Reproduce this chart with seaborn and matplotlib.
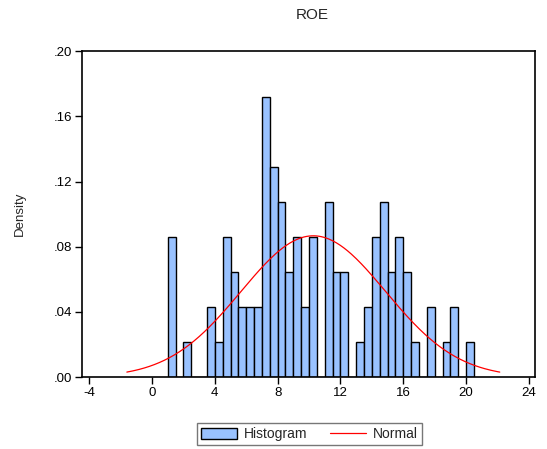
import numpy as np
import pandas as pd
import matplotlib
matplotlib.use("Agg")
import matplotlib.pyplot as plt
from matplotlib.lines import Line2D
from matplotlib.patches import Patch
import seaborn as sns

# ROE histogram: bin left edges (width 0.5) and counts per bin
bin_width = 0.5
bin_lefts = [1.0, 2.0, 3.5, 4.0, 4.5, 5.0, 5.5, 6.0, 6.5, 7.0, 7.5, 8.0, 8.5,
             9.0, 9.5, 10.0, 11.0, 11.5, 12.0, 13.0, 13.5, 14.0, 14.5, 15.0,
             15.5, 16.0, 16.5, 17.5, 18.5, 19.0, 20.0]
counts = [4, 1, 2, 1, 4, 3, 2, 2, 2, 8, 6, 5, 3,
          4, 2, 4, 5, 3, 3, 1, 2, 4, 5, 3,
          4, 3, 1, 2, 1, 2, 1]

# Fitted normal parameters
mu = 10.27
sigma = 4.60

x_ticks = [-4, 0, 4, 8, 12, 16, 20, 24]
y_ticks = [0.00, 0.04, 0.08, 0.12, 0.16, 0.20]
y_tick_labels = [".00", ".04", ".08", ".12", ".16", ".20"]

sns.set_style("white")
plt.rcParams["font.family"] = ["Liberation Sans", "DejaVu Sans"]

fig = plt.figure(figsize=(5.47, 4.49), dpi=100)
ax = fig.add_axes([0.150, 0.160, 0.828, 0.726])

hist_df = pd.DataFrame({
    "center": np.array(bin_lefts) + bin_width / 2,
    "count": counts,
})
bar_color = "#99C2FF"
sns.histplot(data=hist_df, x="center", weights="count",
             binwidth=bin_width, binrange=(1.0, 20.5),
             stat="density", color=bar_color, alpha=1.0,
             edgecolor="black", linewidth=1.0, ax=ax)

# Normal density over mean +/- 2.58 sd
xs = np.linspace(mu - 2.58 * sigma, mu + 2.58 * sigma, 300)
norm_df = pd.DataFrame({
    "x": xs,
    "density": np.exp(-0.5 * ((xs - mu) / sigma) ** 2) / (sigma * np.sqrt(2 * np.pi)),
})
sns.lineplot(data=norm_df, x="x", y="density", color="red", linewidth=0.9, ax=ax)

ax.set_xlim(-4.45, 24.38)
ax.set_ylim(0, 0.20)
ax.set_xticks(x_ticks)
ax.set_xticklabels([str(t) for t in x_ticks])
ax.set_yticks(y_ticks)
ax.set_yticklabels(y_tick_labels)
ax.tick_params(axis="both", direction="out", length=5, width=1,
               labelsize=9.5, colors="black", bottom=True, left=True, pad=2)
for sp in ax.spines.values():
    sp.set_color("black")
    sp.set_linewidth(1.2)
ax.set_xlabel("")
ax.set_ylabel("Density", fontsize=9.5, labelpad=20)
ax.set_title("ROE", fontsize=11, pad=23, x=0.508)

handles = [Patch(facecolor=bar_color, edgecolor="black", linewidth=1.0),
           Line2D([0], [0], color="red", linewidth=0.9)]
leg = fig.legend(handles, ["Histogram", "Normal"], loc="center",
                 bbox_to_anchor=(0.566, 0.033), ncol=2, fontsize=10,
                 frameon=True, fancybox=False, shadow=False,
                 handlelength=2.6, handleheight=0.9, columnspacing=1.6,
                 borderpad=0.3, handletextpad=0.5)
leg.get_frame().set_edgecolor("#555555")
leg.get_frame().set_linewidth(1.0)

fig.savefig("out.png", dpi=100)
